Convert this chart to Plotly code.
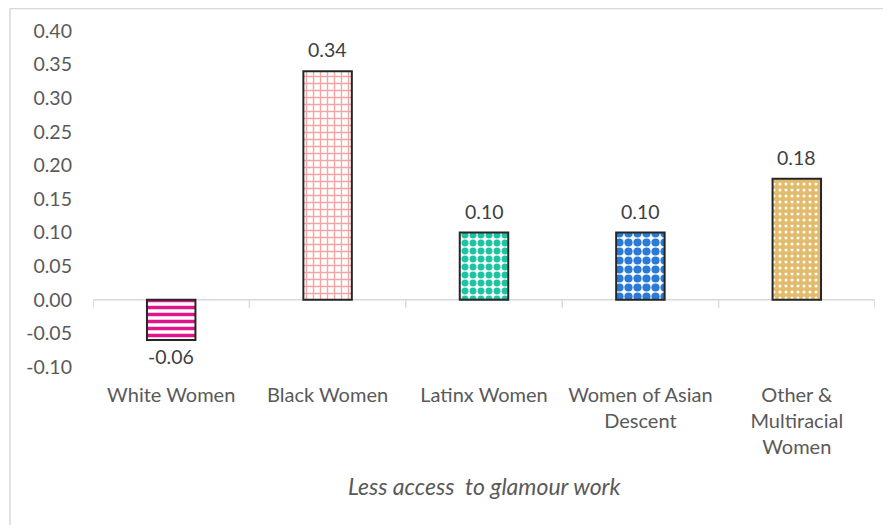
import plotly.graph_objects as go

categories = ["White Women", "Black Women", "Latinx Women", "Women of Asian<br>Descent", "Other &<br>Multiracial<br>Women"]
values = [-0.06, 0.34, 0.10, 0.10, 0.18]
fg_colors = ["#E0148C", "#F6A3A3", "#1BC4A2", "#2B7BD6", "#FFFFFF"]
bg_colors = ["#FFFFFF", "#FFFFFF", "#FFFFFF", "#FFFFFF", "#E3BB6C"]
shapes_pat = ["-", "+", ".", ".", "."]
pat_sizes = [7, 7, 8, 9, 6]
pat_solid = [0.5, 0.35, 0.6, 0.65, 0.2]
y_ticks = [-0.10, -0.05, 0.00, 0.05, 0.10, 0.15, 0.20, 0.25, 0.30, 0.35, 0.40]
x_title = "Less access  to glamour work"

FONT = "Lato"
GRAY = "#595959"

# page has an 8px body margin; figure is sized/offset to compensate
W, H = 883, 517
L, R, T = 85, 16, 23
PLOT_H = 336
B = H - T - PLOT_H

fig = go.Figure()
fig.add_trace(go.Bar(
    x=categories, y=values, width=0.31,
    marker=dict(
        color="white",
        line=dict(color="#262626", width=2),
        pattern=dict(shape=shapes_pat, fgcolor=fg_colors, bgcolor=bg_colors,
                     size=pat_sizes, solidity=pat_solid, fillmode="replace"),
    ),
    hoverinfo="skip",
))

annotations = []
for c, v in zip(categories, values):
    annotations.append(dict(
        x=c, y=v, xref="x", yref="y", text=f"{v:.2f}", showarrow=False,
        yanchor="bottom" if v >= 0 else "top", yshift=8 if v >= 0 else -3,
        font=dict(family=FONT, size=19.5, color="#404040"),
    ))
annotations.append(dict(
    x=0.5, y=(-(486 - 8) + (T + PLOT_H)) / PLOT_H, xref="paper", yref="paper",
    text=f"<i>{x_title}</i>",
    showarrow=False, yanchor="middle", xanchor="center",
    font=dict(family=FONT, size=23, color=GRAY),
))

n = len(categories)
shapes = [dict(type="line", xref="x", yref="y", x0=-0.5, x1=n - 0.5, y0=0, y1=0,
               line=dict(color="#D9D9D9", width=1.5), layer="below")]
for i in range(n + 1):
    shapes.append(dict(type="line", xref="x", yref="y", x0=i - 0.5, x1=i - 0.5, y0=0, y1=-0.012,
                       line=dict(color="#D9D9D9", width=1.5), layer="below"))
# outer chart border (left and top)
bx = (2 - L) / (W - L - R)
by = (T + PLOT_H - 0.5) / PLOT_H
shapes.append(dict(type="line", xref="paper", yref="paper", x0=bx, x1=bx, y0=by, y1=-0.6,
                   line=dict(color="#D9D9D9", width=1.5)))
shapes.append(dict(type="line", xref="paper", yref="paper", x0=bx, x1=1.1, y0=by, y1=by,
                   line=dict(color="#D9D9D9", width=1.5)))

fig.update_layout(
    width=W, height=H,
    margin=dict(l=L, r=R, t=T, b=B),
    paper_bgcolor="white", plot_bgcolor="white",
    showlegend=False,
    font=dict(family=FONT, size=19.5, color=GRAY),
    annotations=annotations, shapes=shapes,
    xaxis=dict(type="category", range=[-0.5, n - 0.5], showline=False, showgrid=False,
               zeroline=False, ticks="", tickfont=dict(family=FONT, size=20, color=GRAY),
               ticklabelstandoff=14, automargin=False),
    yaxis=dict(range=[-0.10, 0.40], tickvals=y_ticks, ticktext=[f"{t:.2f}" for t in y_ticks],
               showline=False, showgrid=False, zeroline=False, ticks="",
               tickfont=dict(family=FONT, size=19.5, color=GRAY),
               ticklabelstandoff=20, automargin=False),
)

fig.write_html("out.html")
